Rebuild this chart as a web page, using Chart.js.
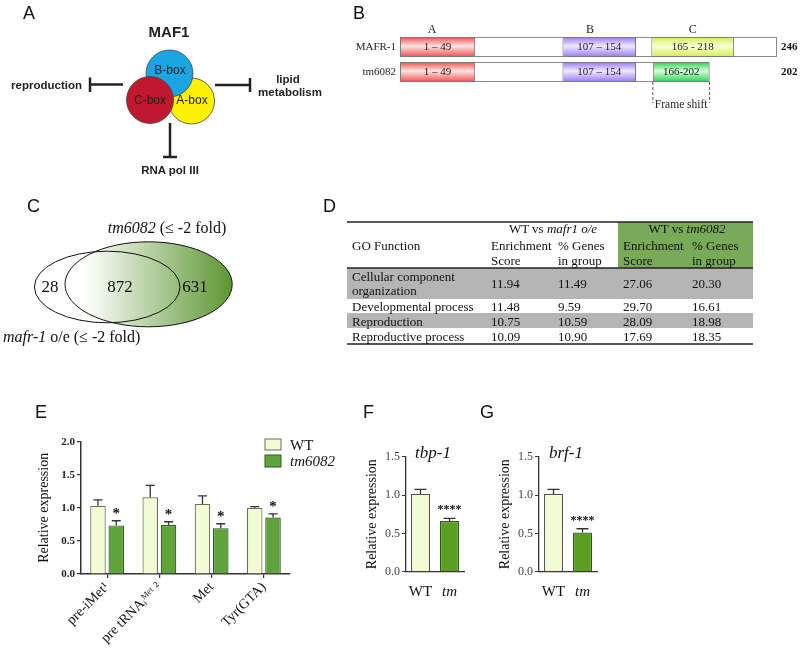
<!DOCTYPE html>
<html><head><meta charset="utf-8">
<script src="https://cdn.jsdelivr.net/npm/chart.js@4.4.1/dist/chart.umd.min.js"></script>
<style>
html,body{margin:0;padding:0;background:#fff;}
body{width:800px;height:651px;position:relative;overflow:hidden;}
canvas{position:absolute;}
#overlay{position:absolute;left:0;top:0;pointer-events:none;}
</style></head>
<body>
<canvas id="cB" width="470" height="120" style="left:330px;top:0px;width:470px;height:120px"></canvas>
<canvas id="cE" width="340" height="226" style="left:0px;top:425px;width:340px;height:226px"></canvas>
<canvas id="cF" width="140" height="170" style="left:335px;top:430px;width:140px;height:170px"></canvas>
<canvas id="cG" width="140" height="170" style="left:470px;top:430px;width:140px;height:170px"></canvas>

<svg id="overlay" width="800" height="651" xmlns="http://www.w3.org/2000/svg">
  <defs>
    <linearGradient id="vg" x1="65" y1="0" x2="232" y2="0" gradientUnits="userSpaceOnUse">
      <stop offset="0" stop-color="#ffffff"/>
      <stop offset="0.12" stop-color="#ffffff"/>
      <stop offset="1" stop-color="#5c9631"/>
    </linearGradient>
  </defs>
  <g font-family="Liberation Sans, Arial, sans-serif" font-size="18" fill="#111">
    <text x="23" y="19">A</text>
    <text x="353" y="19">B</text>
    <text x="27" y="212">C</text>
    <text x="323" y="212">D</text>
    <text x="35" y="418">E</text>
    <text x="363" y="418">F</text>
    <text x="480" y="418">G</text>
  </g>
  <!-- Panel A -->
  <g font-family="Liberation Sans, Arial, sans-serif" fill="#222">
    <text x="169" y="37" font-size="15" font-weight="bold" text-anchor="middle">MAF1</text>
    <circle cx="191.5" cy="101" r="23" fill="#fff200" stroke="#444" stroke-width="0.8"/>
    <circle cx="169.5" cy="73.5" r="23.5" fill="#1ba6e3" stroke="#444" stroke-width="0.8"/>
    <circle cx="150" cy="100" r="23.5" fill="#c1182f" stroke="#444" stroke-width="0.8"/>
    <text x="170" y="74" font-size="12" text-anchor="middle">B-box</text>
    <text x="150" y="104" font-size="12" text-anchor="middle">C-box</text>
    <text x="192" y="104" font-size="12" text-anchor="middle">A-box</text>
    <text x="82" y="89" font-size="11.5" font-weight="bold" text-anchor="end">reproduction</text>
    <text x="288" y="82.5" font-size="11.5" font-weight="bold" text-anchor="middle">lipid</text>
    <text x="290" y="96" font-size="11.5" font-weight="bold" text-anchor="middle">metabolism</text>
    <text x="170" y="174" font-size="11.5" font-weight="bold" text-anchor="middle">RNA pol III</text>
    <g stroke="#222" stroke-width="2.5" fill="none">
      <line x1="90" y1="84.5" x2="123" y2="84.5"/>
      <line x1="90" y1="77.5" x2="90" y2="92"/>
      <line x1="215" y1="85" x2="250" y2="85"/>
      <line x1="250" y1="78" x2="250" y2="92"/>
      <line x1="170" y1="123" x2="170" y2="157"/>
      <line x1="163" y1="157" x2="177" y2="157"/>
    </g>
  </g>
  <!-- Panel C -->
  <g font-family="Liberation Serif, Times New Roman, serif" fill="#111">
    <ellipse cx="148.6" cy="284.3" rx="83.6" ry="42.5" fill="url(#vg)" stroke="#111" stroke-width="1"/>
    <ellipse cx="107.2" cy="287" rx="72.8" ry="35.8" fill="none" stroke="#111" stroke-width="1"/>
    <text x="167" y="233" font-size="16" text-anchor="middle"><tspan font-style="italic">tm6082</tspan> (≤ -2 fold)</text>
    <text x="50" y="292" font-size="17" text-anchor="middle">28</text>
    <text x="120" y="292" font-size="17" text-anchor="middle">872</text>
    <text x="195" y="292" font-size="17" text-anchor="middle">631</text>
    <text x="3" y="342" font-size="16"><tspan font-style="italic">mafr-1</tspan> o/e (≤ -2 fold)</text>
  </g>
  <!-- Panel D table -->
  <g font-family="Liberation Serif, Times New Roman, serif" font-size="13" fill="#111">
    <rect x="618" y="222" width="135" height="46" fill="#78aa58"/>
    <rect x="347" y="268" width="406" height="31" fill="#b5b5b5"/>
    <rect x="347" y="313" width="406" height="15" fill="#b5b5b5"/>
    <line x1="347" y1="222" x2="753" y2="222" stroke="#222" stroke-width="1.5"/>
    <line x1="347" y1="268" x2="753" y2="268" stroke="#222" stroke-width="1.5"/>
    <line x1="347" y1="344" x2="753" y2="344" stroke="#222" stroke-width="1.5"/>
    <text x="553" y="233" text-anchor="middle">WT vs <tspan font-style="italic">mafr1 o/e</tspan></text>
    <text x="687" y="233" text-anchor="middle">WT vs <tspan font-style="italic">tm6082</tspan></text>
    <text x="352" y="250">GO Function</text>
    <text x="491" y="250">Enrichment</text><text x="491" y="265">Score</text>
    <text x="558" y="250">% Genes</text><text x="558" y="265">in group</text>
    <text x="623" y="250">Enrichment</text><text x="623" y="265">Score</text>
    <text x="692" y="250">% Genes</text><text x="692" y="265">in group</text>
    <text x="352" y="281">Cellular component</text><text x="352" y="295">organization</text>
    <text x="491" y="288">11.94</text><text x="558" y="288">11.49</text><text x="623" y="288">27.06</text><text x="692" y="288">20.30</text>
    <text x="352" y="311">Developmental process</text>
    <text x="491" y="311">11.48</text><text x="558" y="311">9.59</text><text x="623" y="311">29.70</text><text x="692" y="311">16.61</text>
    <text x="352" y="326">Reproduction</text>
    <text x="491" y="326">10.75</text><text x="558" y="326">10.59</text><text x="623" y="326">28.09</text><text x="692" y="326">18.98</text>
    <text x="352" y="341">Reproductive process</text>
    <text x="491" y="341">10.09</text><text x="558" y="341">10.90</text><text x="623" y="341">17.69</text><text x="692" y="341">18.35</text>
  </g>
  <!-- Panel E legend -->
  <g font-family="Liberation Serif, Times New Roman, serif" font-size="15" fill="#111">
    <rect x="265" y="439" width="16" height="11" fill="#f2fbd3" stroke="#6b6f5f" stroke-width="1"/>
    <rect x="265" y="455" width="16" height="12" fill="#5ea43a" stroke="#2f5a22" stroke-width="1"/>
    <text x="290" y="450">WT</text>
    <text x="290" y="466" font-style="italic">tm6082</text>
  </g>
</svg>

<script>
// ---------------- DATA ----------------
// Panel B (protein domains, residue ranges)
const proteinRows = ['MAFR-1', 'tm6082'];
const proteinLengths = ['246', '202'];
const fullLength = [[0, 246], [0, 202]];
const domainA = [[0, 49], [0, 49]];
const domainB = [[106, 154], [106, 154]];
const domainC = [[164, 218], [165, 202]];
const domainATexts = ['1 \u2013 49', '1 \u2013 49'];
const domainBTexts = ['107 \u2013 154', '107 \u2013 154'];
const domainCTexts = ['165 - 218', '166-202'];
const domainLetters = ['A', 'B', 'C'];
const domainLetterPos = [21, 124, 191];
const frameShift = [165, 202];

// Panel E
const eCategories = ['pre-iMet\u00B9', 'pre tRNA\u1D62\u1D39\u1D49\u1D57 \u00B2', 'Met', 'Tyr(GTA)'];
const eWT = [1.03, 1.16, 1.06, 1.00];
const eWTErr = [0.09, 0.18, 0.12, 0.02];
const eTM = [0.735, 0.74, 0.69, 0.855];
const eTMErr = [0.07, 0.05, 0.07, 0.055];
const eStars = ['*', '*', '*', '*'];

// Panels F and G
const fgCategories = ['WT', 'tm'];
const fValues = [1.015, 0.66];
const fErr = [0.06, 0.035];
const fStars = ['', '****'];
const gValues = [1.015, 0.51];
const gErr = [0.06, 0.05];
const gStars = ['', '****'];

// ---------------- STYLE ----------------
const SERIF = "'Liberation Serif', 'Times New Roman', serif";
const AX = '#333';
const WT_FILL = '#f2fbd3', WT_EDGE = '#6b6f5f';
const TM_FILL = '#5ea43a', TM_EDGE = '#2f5a22';
Chart.defaults.font.family = SERIF;
Chart.defaults.color = '#222';

const errPlugin = {
  id: 'errbars',
  afterDatasetsDraw(chart, args, opts) {
    const ctx = chart.ctx, y = chart.scales.y;
    (opts.sets || []).forEach((set, di) => {
      const meta = chart.getDatasetMeta(di);
      const vals = chart.data.datasets[di].data;
      meta.data.forEach((bar, i) => {
        const top = y.getPixelForValue(vals[i] + set.err[i]);
        ctx.save();
        ctx.strokeStyle = opts.color || '#333';
        ctx.lineWidth = opts.width || 1.3;
        ctx.beginPath();
        ctx.moveTo(bar.x, bar.y);
        ctx.lineTo(bar.x, top);
        ctx.moveTo(bar.x - opts.cap, top);
        ctx.lineTo(bar.x + opts.cap, top);
        ctx.stroke();
        if (set.stars && set.stars[i]) {
          ctx.font = opts.starFont;
          ctx.fillStyle = '#111';
          ctx.textAlign = 'center';
          ctx.textBaseline = 'alphabetic';
          ctx.fillText(set.stars[i], bar.x, top - opts.starGap);
        }
        ctx.restore();
      });
    });
  }
};

const geneTitle = {
  id: 'geneTitle',
  afterDraw(chart, args, opts) {
    if (!opts.text) return;
    const ctx = chart.ctx, ca = chart.chartArea;
    ctx.save();
    ctx.font = 'italic 17px ' + SERIF;
    ctx.fillStyle = '#111';
    ctx.textAlign = 'center';
    ctx.fillText(opts.text, (ca.left + ca.right) / 2 + (opts.dx || 0), ca.top + 1.5);
    ctx.restore();
  }
};

// ---------------- PANEL B ----------------
function grad(c, pair) {
  const ch = c.chart, ys = ch.scales && ch.scales.y;
  if (!ys || !ch.chartArea) return pair[0];
  const yc = ys.getPixelForValue(c.dataIndex);
  const g = ch.ctx.createLinearGradient(0, yc - 10, 0, yc + 10);
  g.addColorStop(0, pair[0]);
  g.addColorStop(0.45, pair[1]);
  g.addColorStop(1, pair[0]);
  return g;
}
const colA = [['#ee4f4f', '#ffe4e4'], ['#ee4f4f', '#ffe4e4']];
const colB = [['#9a78ee', '#f0e8ff'], ['#9a78ee', '#f0e8ff']];
const colC = [['#d2ee50', '#f8ffd6'], ['#2ecf4e', '#d4ffdc']];

const protPlugin = {
  id: 'prot',
  afterDatasetsDraw(chart) {
    const ctx = chart.ctx, xs = chart.scales.x, ys = chart.scales.y, ca = chart.chartArea;
    ctx.save();
    ctx.fillStyle = '#222';
    ctx.textAlign = 'center';
    ctx.textBaseline = 'middle';
    ctx.font = '11px ' + SERIF;
    [domainATexts, domainBTexts, domainCTexts].forEach((texts, di) => {
      chart.getDatasetMeta(di).data.forEach((bar, i) => {
        ctx.fillText(texts[i], (bar.x + bar.base) / 2, bar.y + 0.5);
      });
    });
    ctx.textBaseline = 'alphabetic';
    ctx.font = '12px ' + SERIF;
    domainLetters.forEach((l, i) => ctx.fillText(l, xs.getPixelForValue(domainLetterPos[i]), ca.top - 1.5));
    const rowBottom = ys.getPixelForValue(1) + 10;
    ctx.strokeStyle = '#555';
    ctx.lineWidth = 1;
    ctx.setLineDash([3, 2]);
    const xsF = frameShift.map(v => xs.getPixelForValue(v));
    xsF.forEach(x => { ctx.beginPath(); ctx.moveTo(x, rowBottom); ctx.lineTo(x, rowBottom + 21); ctx.stroke(); });
    ctx.setLineDash([]);
    ctx.font = '11.5px ' + SERIF;
    ctx.fillText('Frame shift', (xsF[0] + xsF[1]) / 2, rowBottom + 26);
    ctx.restore();
  }
};

new Chart(document.getElementById('cB'), {
  type: 'bar',
  data: {
    labels: proteinRows,
    datasets: [
      { data: domainA, backgroundColor: c => grad(c, colA[c.dataIndex]), borderColor: '#7a7a7a', borderWidth: 1, borderSkipped: false },
      { data: domainB, backgroundColor: c => grad(c, colB[c.dataIndex]), borderColor: '#7a7a7a', borderWidth: 1, borderSkipped: false },
      { data: domainC, backgroundColor: c => grad(c, colC[c.dataIndex]), borderColor: '#7a7a7a', borderWidth: 1, borderSkipped: false },
      { data: fullLength, backgroundColor: '#ffffff', borderColor: '#8a8a8a', borderWidth: 1, borderSkipped: false }
    ]
  },
  options: {
    indexAxis: 'y', responsive: false, animation: false, devicePixelRatio: 1,
    layout: { padding: { left: 0, right: 0, top: 34.5, bottom: 35.5 } },
    datasets: { bar: { grouped: false, categoryPercentage: 1, barPercentage: 0.8 } },
    plugins: { legend: { display: false }, tooltip: { enabled: false } },
    scales: {
      x: { type: 'linear', min: 0, max: 246, display: false },
      y: { type: 'category', offset: true, grid: { display: false, drawTicks: false }, border: { display: false },
           ticks: { font: { size: 11 }, color: '#222', padding: 4 }, afterFit: s => { s.width = 70; } },
      y2: { type: 'category', labels: proteinLengths, position: 'right', offset: true,
            grid: { display: false, drawTicks: false }, border: { display: false },
            ticks: { font: { size: 11, weight: 'bold' }, color: '#111', padding: 4 }, afterFit: s => { s.width = 23; } }
    }
  },
  plugins: [protPlugin]
});

// ---------------- PANEL E ----------------
new Chart(document.getElementById('cE'), {
  type: 'bar',
  data: {
    labels: eCategories,
    datasets: [
      { label: 'WT', data: eWT, backgroundColor: WT_FILL, borderColor: WT_EDGE, borderWidth: 1.2 },
      { label: 'tm6082', data: eTM, backgroundColor: TM_FILL, borderColor: TM_EDGE, borderWidth: 1.2 }
    ]
  },
  options: {
    responsive: false, animation: false, devicePixelRatio: 1,
    layout: { padding: { left: 36, top: 16.7, right: 50, bottom: 0 } },
    datasets: { bar: { categoryPercentage: 0.7, barPercentage: 0.85 } },
    plugins: {
      legend: { display: false }, tooltip: { enabled: false },
      errbars: { sets: [{ err: eWTErr }, { err: eTMErr, stars: eStars }], cap: 4.5, width: 1.3, color: '#333',
                 starFont: 'bold 15px ' + SERIF, starGap: 2.5 }
    },
    scales: {
      x: { grid: { offset: false, drawOnChartArea: false, tickLength: 4, color: AX, lineWidth: 1.2 },
           border: { color: AX, width: 1.5 },
           ticks: { minRotation: 45, maxRotation: 45, font: { size: 14 }, color: '#111', padding: 1 },
           afterFit: s => { s.height = 77; } },
      y: { min: 0, max: 2,
           ticks: { stepSize: 0.5, callback: v => v.toFixed(1), font: { size: 11, weight: 'bold' }, color: '#222', padding: 2 },
           grid: { drawOnChartArea: false, tickLength: 4, color: AX, lineWidth: 1.2 },
           border: { color: AX, width: 1.5 },
           title: { display: true, text: 'Relative expression', font: { size: 14 }, color: '#111', padding: 0 },
           afterFit: s => { s.width = 45; } }
    }
  },
  plugins: [errPlugin]
});

// ---------------- PANELS F, G ----------------
function smallChart(id, values, errs, stars, gene, padLeft, padRight) {
  return new Chart(document.getElementById(id), {
    type: 'bar',
    data: {
      labels: fgCategories,
      datasets: [{ data: values, backgroundColor: [WT_FILL, '#5b9f22'], borderColor: ['#555', '#2f5a1a'], borderWidth: 1.2 }]
    },
    options: {
      responsive: false, animation: false, devicePixelRatio: 1,
      layout: { padding: { left: padLeft, top: 26.7, right: padRight, bottom: 0 } },
      datasets: { bar: { categoryPercentage: 1, barPercentage: 0.655 } },
      plugins: {
        legend: { display: false }, tooltip: { enabled: false },
        errbars: { sets: [{ err: errs, stars: stars }], cap: 6, width: 1.3, color: '#333',
                   starFont: 'bold 12px ' + SERIF, starGap: 5 },
        geneTitle: { text: gene, dx: -2 }
      },
      scales: {
        x: { grid: { display: false }, border: { color: AX, width: 1.3 },
             ticks: { minRotation: 0, maxRotation: 0, autoSkip: false,
                      font: c => ({ size: 15, style: c.index === 1 ? 'italic' : 'normal' }), color: '#111', padding: 3 },
             afterFit: s => { s.height = 28.3; } },
        y: { min: 0, max: 1.5,
             ticks: { stepSize: 0.5, callback: v => v.toFixed(1), font: { size: 12 }, color: '#444', padding: 2 },
             grid: { drawOnChartArea: false, tickLength: 4, color: AX },
             border: { color: AX, width: 1.3 },
             title: { display: true, text: 'Relative expression', font: { size: 14 }, color: '#111', padding: 0 },
             afterFit: s => { s.width = 42; } }
      }
    },
    plugins: [errPlugin, geneTitle]
  });
}
smallChart('cF', fValues, fErr, fStars, 'tbp-1', 29, 11);
smallChart('cG', gValues, gErr, gStars, 'brf-1', 27, 13);
</script>
</body></html>
